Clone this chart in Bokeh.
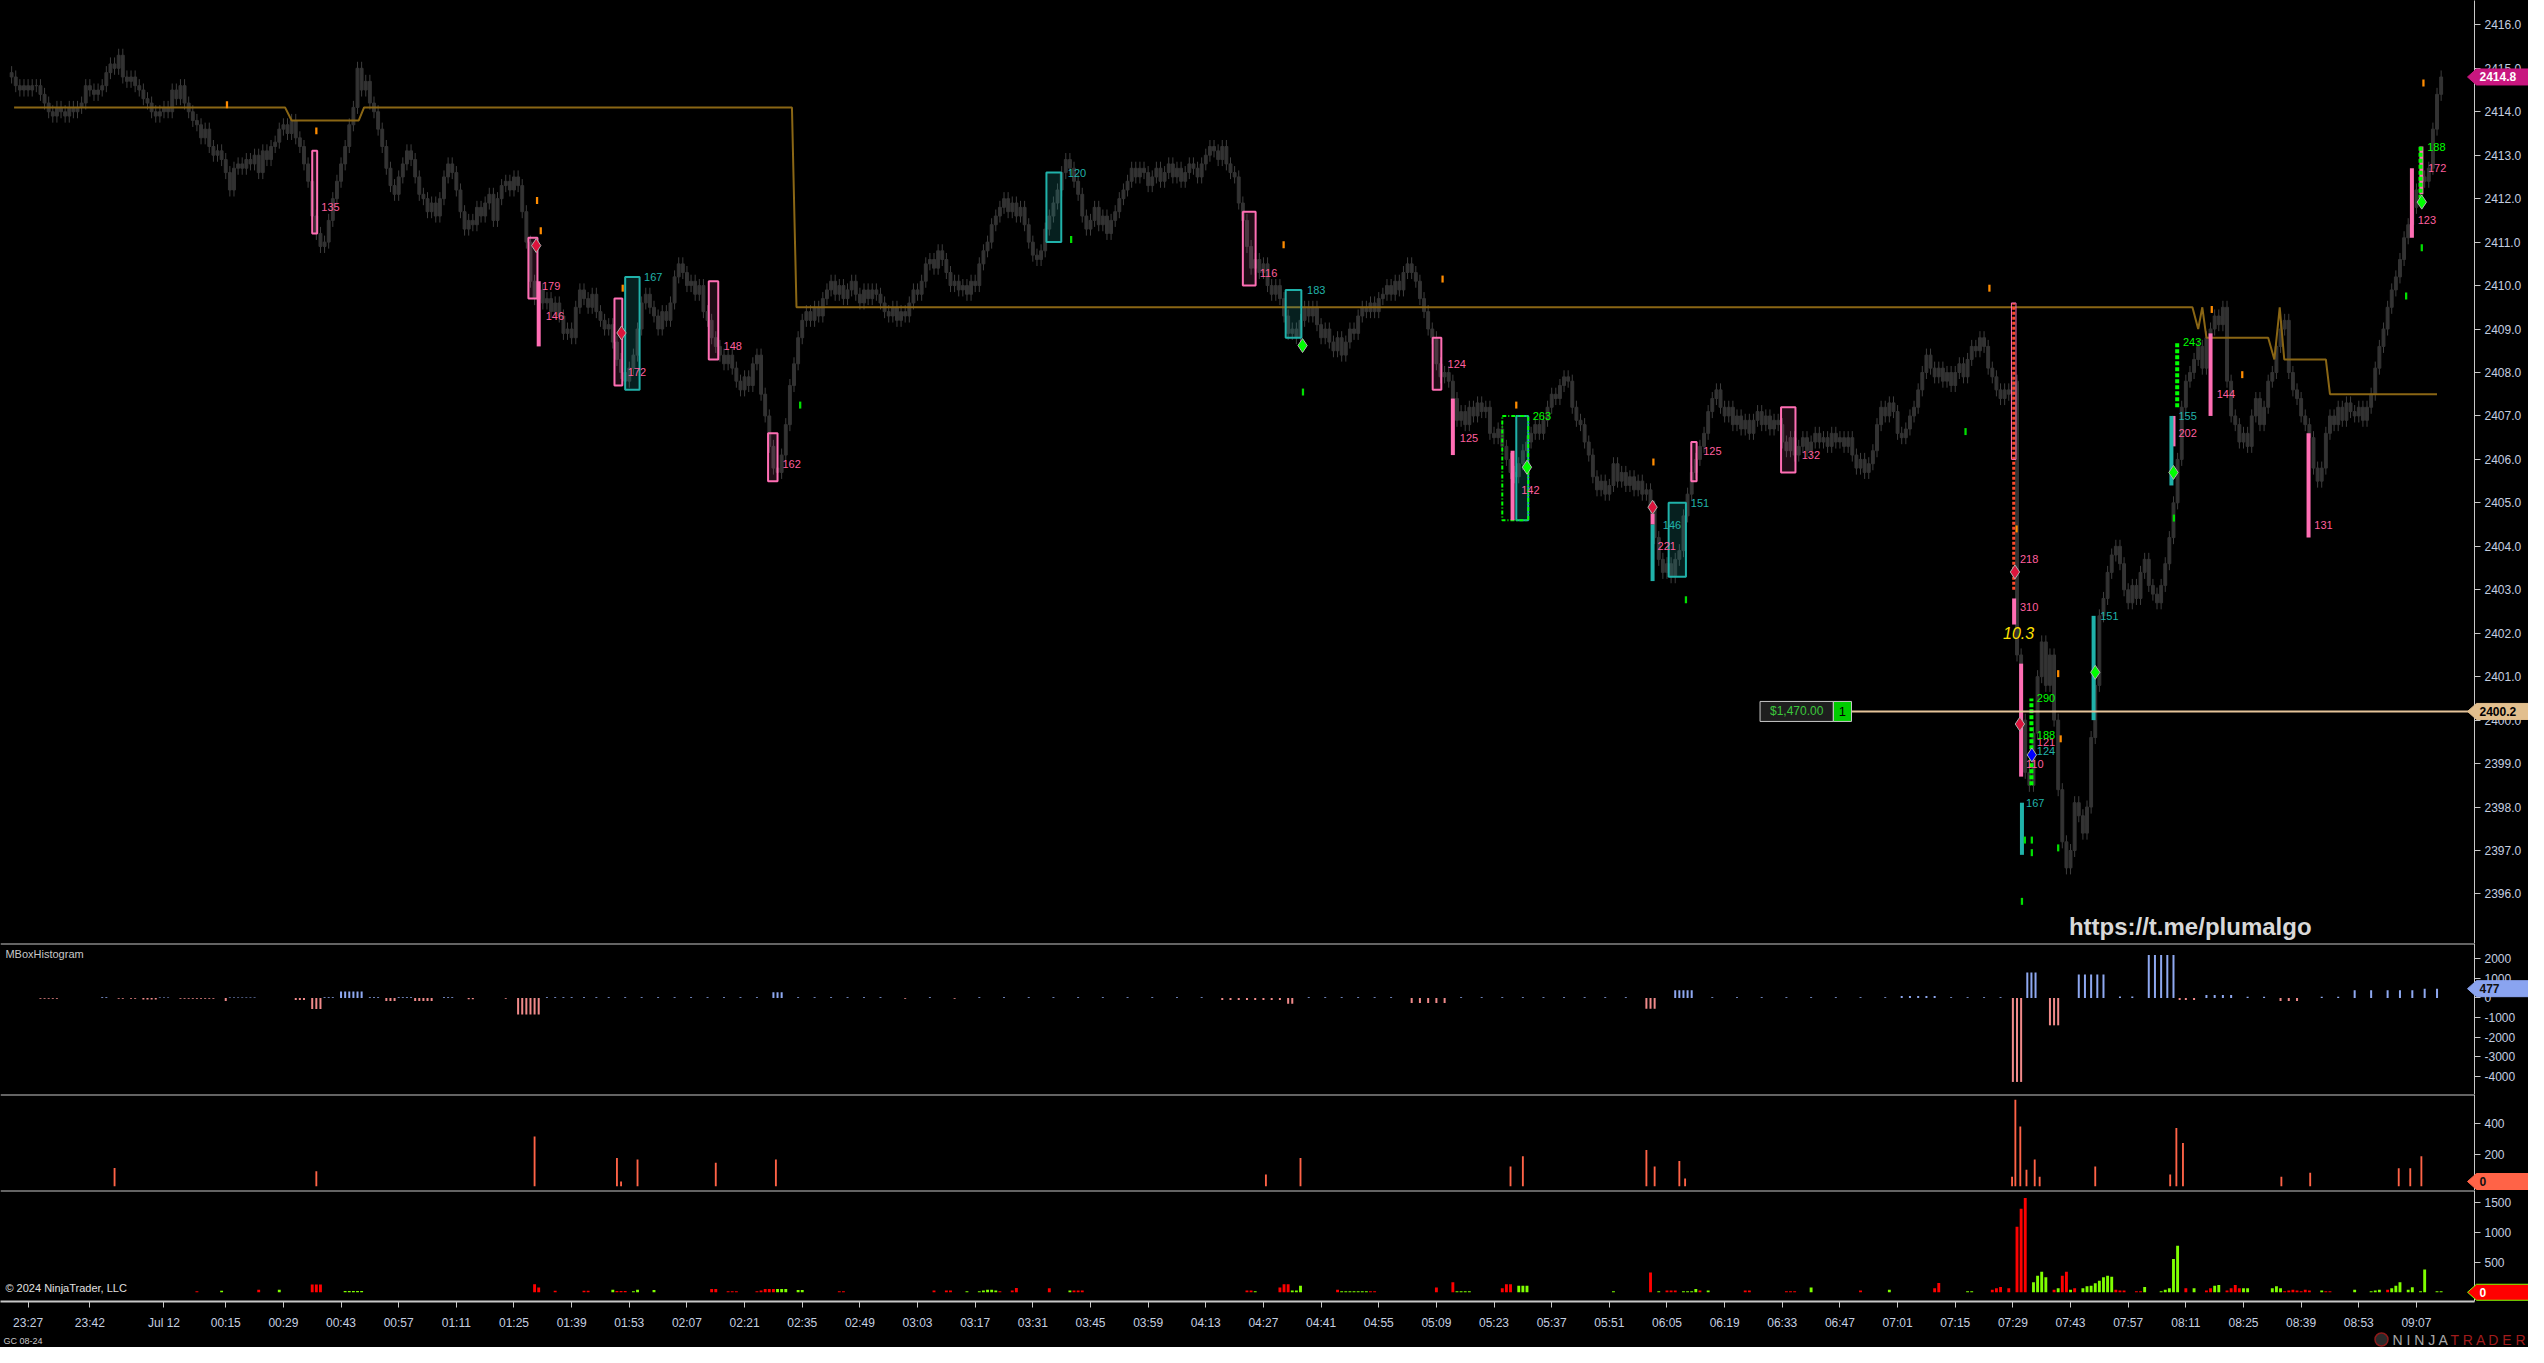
import numpy as np
from bokeh.plotting import figure
from bokeh.layouts import column, row
from bokeh.models import FixedTicker, Label, Span, Range1d, PrintfTickFormatter
from bokeh.core.properties import value
from bokeh.embed import file_html
from bokeh.resources import INLINE

# x = minutes after 23:00 (Jul 11); one candle per minute from 23:23
BAR_START = 23
# closes in tenths above 2390.0
CLOSE_TENTHS = [
    248,246,245,246,245,246,246,244,242,240, 239,241,240,239,241,240,241,242,246,245,
    244,245,246,249,251,250,253,248,247,248, 246,245,243,242,240,239,240,241,240,245,
    243,246,242,240,238,237,234,236,232,230, 231,229,226,222,227,228,227,229,228,230,
    226,231,229,232,233,236,237,235,238,234, 232,228,224,216,212,209,210,215,220,224,
    228,232,237,241,250,245,247,242,240,236, 232,227,223,221,225,228,231,229,225,221,
    220,217,219,216,220,225,228,226,222,217, 213,215,214,218,216,219,221,215,220,223,
    224,222,225,223,217,210,201,197,199,196, 197,194,196,193,189,190,188,195,199,197,
    195,198,194,192,190,191,187,183,180,178, 181,184,190,196,198,195,193,190,194,192,
    196,202,205,203,200,201,198,200,194,192, 188,186,184,182,184,181,178,176,179,177,
    182,184,175,170,163,158,157,161,168,177, 182,188,192,194,192,195,193,197,199,201,
    198,200,197,199,201,198,196,199,197,199, 198,196,194,193,195,192,194,193,196,199,
    198,201,205,206,204,208,206,203,200,201, 199,200,198,201,200,205,208,210,214,216,
    218,220,217,219,216,218,214,210,207,206, 208,213,216,219,222,226,229,227,224,221,
    216,213,215,218,214,216,212,215,217,220, 222,224,227,225,227,226,223,225,227,224,
    226,228,225,227,224,226,228,227,225,228, 230,232,231,229,232,228,226,225,219,215,
    209,204,206,203,205,200,198,200,197,193, 189,190,188,192,195,193,195,191,188,190,
    187,185,188,184,187,190,189,193,195,194, 196,194,197,198,200,198,201,199,203,205,
    203,201,197,194,190,188,182,179,180,178, 174,169,171,168,172,170,173,171,172,166,
    165,167,163,160,157,156,159,162,164,166, 168,166,169,172,175,174,177,179,178,172,
    169,168,164,161,156,153,155,152,154,159, 155,157,154,156,153,155,152,153,149,142,
    137,134,136,133,137,139,147,152,157,160, 163,166,171,174,176,172,170,172,168,170,
    167,169,166,169,171,168,170,167,169,168, 164,162,165,161,163,165,162,164,166,164,
    165,163,166,164,165,163,165,161,158,160, 157,159,162,168,172,170,173,171,166,165,
    167,170,172,176,180,184,181,179,181,178, 180,177,180,182,179,183,186,185,188,186,
    181,179,176,174,176,175,178,115,100,88, 85,97,110,118,108,115,100,84,72,66,
    70,81,78,74,80,96,108,124,128,134, 138,140,136,130,127,131,128,134,137,131,
    129,127,131,136,142,150,160,172,178,180, 183,186,181,188,190,193,191,195,178,170,
    168,164,166,163,170,174,168,172,178,180, 186,190,192,180,176,174,170,168,165,158,
    155,158,166,170,168,172,169,173,171,170, 172,169,172,175,181,186,190,195,199,202,
    206,211,214,218,222,225,224,227,236,244, 248,
]

LEVEL_T = [23.6, 89.4, 91.0, 107.3, 108.6, 212.5, 213.6, 552.6, 554.0, 555.0, 556.0, 571.0, 572.5, 573.8, 574.9, 585.0, 586.0, 612.0]
LEVEL_P = [2414.1, 2414.1, 2413.8, 2413.8, 2414.1, 2414.1, 2409.5, 2409.5, 2409.0, 2409.5, 2408.8, 2408.8, 2408.3, 2409.5, 2408.3, 2408.3, 2407.5, 2407.5]

# signal boxes: (t0, t1, low, high)
PINK_BOXES = [(96, 97.2, 2411.2, 2413.1), (148.5, 150.7, 2409.7, 2411.1), (169.4, 171.3, 2407.7, 2409.7),
              (192.3, 194.6, 2408.3, 2410.1), (206.7, 209.0, 2405.5, 2406.6), (322.0, 325.1, 2410.0, 2411.7),
              (368.1, 370.2, 2407.6, 2408.8), (430.9, 432.2, 2405.5, 2406.4), (452.7, 456.2, 2405.7, 2407.2)]
TEAL_BOXES = [(172.0, 175.5, 2407.6, 2410.2), (274.3, 277.9, 2411.0, 2412.6), (332.4, 336.2, 2408.8, 2409.9),
              (388.4, 391.3, 2404.6, 2407.0), (425.4, 429.6, 2403.3, 2405.0)]
GREEN_DASH_BOXES = [(385.0, 391.3, 2404.6, 2407.0)]
# solid signal bars: (t, low, high)
PINK_BARS = [(151, 2408.6, 2410.1), (373, 2406.1, 2407.4), (387.5, 2404.6, 2406.2), (509.3, 2402.2, 2402.8),
             (511, 2398.7, 2401.3), (548, 2406.3, 2407.0), (557, 2407.0, 2408.9), (580.8, 2404.2, 2406.6),
             (605.9, 2411.1, 2412.7), (608.2, 2412.1, 2413.2), (421.5, 2404.5, 2404.75)]
TEAL_BARS = [(421.5, 2403.2, 2404.5), (511.2, 2396.9, 2398.1), (528.6, 2400.0, 2402.4), (547.5, 2405.4, 2407.0)]
GREEN_DASH_BARS = [(513.5, 2398.5, 2400.5), (548.9, 2407.2, 2408.7), (608.0, 2412.0, 2413.2)]
ORANGE_DASH_BARS = [(509.2, 2403.0, 2409.6)]

RED_DIAMONDS = [(150.4, 2410.92), (171.1, 2408.91), (421.5, 2404.9), (509.5, 2403.41), (510.7, 2399.91)]
GREEN_DIAMONDS = [(336.5, 2408.62), (391.0, 2405.82), (529.0, 2401.1), (548.0, 2405.7), (608.3, 2411.92)]
BLUE_DIAMONDS = [(513.6, 2399.2)]

ORANGE_TICKS = [(75.3, 2414.16), (97.0, 2413.56), (150.6, 2411.96), (151.5, 2411.26), (171.4, 2409.94),
                (331.9, 2410.94), (370.5, 2410.15), (388.4, 2407.25), (421.7, 2405.94), (503.3, 2409.94),
                (509.9, 2404.4), (520.0, 2401.07), (520.6, 2399.57), (557.3, 2409.45), (564.7, 2407.95), (608.7, 2414.66)]
GREEN_TICKS = [(214.5, 2407.25), (280.3, 2411.06), (336.6, 2407.55), (429.6, 2402.77), (497.5, 2406.64),
               (511.9, 2397.24), (513.6, 2397.24), (513.6, 2396.95), (511.2, 2395.83), (520.0, 2397.06),
               (548.1, 2404.65), (604.5, 2409.76), (608.3, 2410.87)]

PINK_LABELS = [("135", 97.9, 2411.8), ("179", 151.5, 2410.0), ("146", 152.4, 2409.3), ("172", 172.3, 2408.0),
               ("148", 195.6, 2408.6), ("162", 209.9, 2405.9), ("116", 325.8, 2410.3), ("124", 371.4, 2408.2),
               ("125", 374.4, 2406.5), ("142", 389.3, 2405.3), ("221", 422.4, 2404.0), ("125", 433.5, 2406.2),
               ("132", 457.4, 2406.1), ("218", 510.4, 2403.7), ("310", 510.4, 2402.6), ("121", 514.5, 2399.5),
               ("110", 511.9, 2399.0), ("202", 548.9, 2406.6), ("144", 558.2, 2407.5), ("131", 581.9, 2404.5),
               ("123", 607.0, 2411.5), ("172", 609.5, 2412.7)]
TEAL_LABELS = [("167", 176.3, 2410.2), ("120", 279.2, 2412.6), ("183", 337.3, 2409.9), ("146", 423.7, 2404.5),
               ("151", 430.5, 2405.0), ("124", 514.5, 2399.3), ("167", 511.9, 2398.1), ("151", 529.9, 2402.4),
               ("155", 548.9, 2407.0)]
GREEN_LABELS = [("263", 392.1, 2407.0), ("290", 514.5, 2400.5), ("188", 514.5, 2399.65), ("243", 550.0, 2408.7),
                ("188", 609.3, 2413.2)]

POSITION_PRICE = 2400.2
LAST_PRICE = 2414.8
LAST_HIST = 477

# MBoxHistogram
HIST_T = [30,31,32,33,34, 45,46, 49,50,52,53, 55,56,57,58, 59,60,61, 64,65,66,67,68, 69,70,71,72, 75,
          76,77,78,79,80,81,82, 92,93,94, 96,97,98, 99,100,101, 103,104,105,106,107,108, 110,111,112,
          114,115,116, 117,118,119,120, 121,122,123,124,125, 128,129,130, 134,135, 143, 146,147,148,149,150,151,
          153,155,157,159,162,165,168,172,176,180,184,188,192,196,200,204,208,209,210,214,218,222,226,230,234,
          240,246,252,258,264,270,276,282,288,294,300,306,312,317,319,321,323,325,327,329,331,333,334,
          338,342,346,350,354,358,363,365,367,369,371,375,380,385,390,395,400,405,410,415,420,421,422,
          427,428,429,430,431, 436,442,448,454,460,466,472,478,482,484,486,488,490,494,498,502,506,
          509,510,511, 512.5,513.5,514.5, 518,519,520, 525,526.5,528,529.5,531, 535,538,
          542,543.5,545,546.5,548, 549.5,551,553, 556,558,560,562, 566,570, 574,576,578, 584,588,
          592,596,600,603,606,609,612]
HIST_V = [-40,-40,-40,-40,-40, 40,40, -40,-40,-40,-40, -80,-80,-80,-80, 30,30,30, -40,-40,-40,-40,-40, -40,-40,-40,-40, -150,
          30,30,30,30,30,30,30, -100,-100,-100, -560,-560,-560, 40,40,40, 330,330,330,330,330,330, 40,40,40,
          -150,-150,-150, 40,40,40,40, -150,-150,-150,-150,-150, 40,40,40, -60,-60, -40, -850,-850,-850,-850,-850,-850,
          40,40,40,40,40,40,40,40,40,40,40,40,40,40,40,40,300,300,300,40,40,40,40,40,40,
          -40,40,-40,40,40,40,40,40,40,40,40,40,40,-100,-100,-100,-100,-100,-100,-100,-100,-300,-300,
          40,40,40,40,40,40,-250,-250,-250,-250,-250,40,40,40,40,40,40,40,40,40,-550,-550,-550,
          400,400,400,400,400, 40,40,40,40,40,40,40,40,100,100,100,100,100,40,40,40,40,
          -4300,-4300,-4300, 1300,1300,1300, -1400,-1400,-1400, 1200,1200,1200,1200,1200, 80,80,
          2200,2200,2200,2200,2200, -100,-100,-100, 150,150,150,150, 60,60, -150,-150,-150, 60,60,
          400,400,400,400,400,477,477]

# Panel 3 (orange bars)
P3_T = [48, 97, 150, 170, 171, 175, 194, 208.6, 327.6, 336, 387, 390, 420, 422, 428, 429.4,
        508.8, 509.6, 510.8, 512.3, 514.3, 515.5, 529, 547.2, 548.7, 550.3, 574.2, 581.2, 602.7, 605.5, 608.2]
P3_V = [116, 95, 316, 180, 30, 170, 150, 170, 75, 180, 125, 190, 230, 125, 160, 50,
        60, 550, 380, 105, 170, 60, 125, 75, 370, 275, 60, 85, 115, 115, 190]
LAST_P3 = 0

# Panel 4 (red / green volume bars)
P4_RED_T = [68, 83, 96, 97, 98, 150, 151, 155, 162, 163, 170, 171, 172, 193, 194, 197, 198, 199, 204, 205, 206, 207, 208,
            224, 225, 247, 250, 251, 263, 266, 267, 275, 281, 282, 283, 323, 324, 331, 332, 333, 345, 353, 354, 369, 373,
            385, 386, 387, 421, 425, 426, 427, 433, 444, 445, 454, 455, 456, 472, 490, 491, 504, 505, 506, 508,
            510, 511, 512, 519, 521, 522, 524, 534, 535, 536, 539, 540, 551, 556, 557, 561, 562, 563, 564,
            575, 576, 577, 578, 579, 580, 581, 585, 586, 600]
P4_RED_V = [15, 43, 130, 130, 130, 135, 80, 25, 25, 25, 20, 20, 20, 56, 56, 17, 17, 17, 17, 28, 56, 56, 56,
            17, 17, 28, 28, 28, 17, 28, 72, 67, 28, 28, 28, 28, 28, 78, 133, 133, 44, 17, 17, 78, 167,
            67, 133, 133, 330, 28, 28, 28, 28, 28, 28, 17, 17, 17, 28, 67, 156, 44, 67, 89, 67,
            1100, 1400, 1580, 44, 278, 344, 67, 44, 28, 28, 17, 17, 67, 28, 67, 28, 67, 120, 67,
            17, 28, 44, 28, 17, 44, 28, 17, 17, 44]
P4_GRN_T = [74, 88, 104, 105, 106, 107, 108, 169, 174, 175, 179, 209, 210, 211, 214, 215, 255, 258, 259, 260, 261, 262,
            280, 325, 334, 335, 336, 346, 347, 348, 349, 350, 351, 352, 374, 375, 376, 377, 389, 390, 391, 412, 423,
            429, 430, 431, 432, 435, 460, 479, 498, 499, 514, 515, 516, 517, 520, 523, 526, 527, 528, 529, 530,
            531, 532, 533, 541, 545, 546, 547, 548, 549, 553, 558, 559, 565, 566, 572, 573, 574, 584, 592, 596, 597, 598,
            601, 602, 603, 605, 606, 608, 609, 612, 613]
P4_GRN_V = [27, 44, 20, 20, 20, 20, 20, 44, 17, 44, 40, 56, 56, 56, 40, 40, 17, 17, 28, 44, 44, 28,
            28, 17, 28, 28, 111, 17, 17, 17, 17, 17, 17, 17, 17, 17, 17, 17, 111, 111, 111, 17, 17,
            17, 17, 17, 56, 28, 78, 44, 17, 17, 167, 278, 344, 250, 67, 44, 67, 100, 110, 150, 195,
            250, 278, 260, 89, 17, 44, 67, 560, 780, 67, 111, 120, 67, 67, 67, 100, 67, 28, 44, 17, 28, 44,
            67, 110, 167, 44, 83, 17, 380, 17, 17]
LAST_P4 = 0

TIME_TICKS = [27, 42, 60, 75, 89, 103, 117, 131, 145, 159, 173, 187, 201, 215, 229, 243, 257, 271, 285, 299,
              313, 327, 341, 355, 369, 383, 397, 411, 425, 439, 453, 467, 481, 495, 509, 523, 537, 551, 565,
              579, 593, 607]
TIME_LABELS = ["23:27", "23:42", "Jul 12", "00:15", "00:29", "00:43", "00:57", "01:11", "01:25", "01:39",
               "01:53", "02:07", "02:21", "02:35", "02:49", "03:03", "03:17", "03:31", "03:45", "03:59",
               "04:13", "04:27", "04:41", "04:55", "05:09", "05:23", "05:37", "05:51", "06:05", "06:19",
               "06:33", "06:47", "07:01", "07:15", "07:29", "07:43", "07:57", "08:11", "08:25", "08:39",
               "08:53", "09:07"]
PRICE_TICKS = [2396.0 + i for i in range(21)]
HIST_TICKS = [2000, 1000, 0, -1000, -2000, -3000, -4000]
P3_TICKS = [0, 200, 400]
P4_TICKS = [0, 500, 1000, 1500]

# ---------------------------------------------------------------------------
FONT = "Liberation Sans"
AXIS_TXT = "#c4cfe0"
AXIS_LINE = "#c8c8c8"
FW = 2474
RB = 54          # right border (price axis area)
TW = 62          # width of the overlay holding the axis tags
TAG_HALF = 8     # half height of a tag, px
xr = Range1d(20.3, 621.1)


def make_fig(h, yr, ticks, fmt, bottom=False):
    p = figure(frame_width=FW, frame_height=h, x_range=xr, y_range=Range1d(*yr),
               x_axis_location="below" if bottom else None, y_axis_location="right",
               output_backend="svg", toolbar_location=None,
               min_border_left=0, min_border_right=RB, min_border_top=0,
               min_border_bottom=46 if bottom else 0,
               background_fill_color="black", border_fill_color="black")
    p.grid.visible = False
    p.outline_line_color = None
    ax = p.yaxis[0]
    ax.ticker = FixedTicker(ticks=ticks)
    ax.formatter = PrintfTickFormatter(format=fmt)
    ax.axis_line_color = AXIS_LINE
    ax.major_tick_line_color = AXIS_LINE
    ax.major_tick_out = 6
    ax.major_tick_in = 0
    ax.minor_tick_line_color = None
    ax.major_label_text_color = AXIS_TXT
    ax.major_label_text_font = FONT
    ax.major_label_text_font_size = "12px"
    ax.major_label_standoff = 4
    return p


def tag_fig(h, yr, tags, bottom=False):
    """transparent overlay laid over the price-axis area that draws the value tags"""
    t = figure(frame_width=TW, frame_height=h, x_range=Range1d(0, TW), y_range=Range1d(*yr),
               x_axis_location=None, y_axis_location=None, output_backend="svg", toolbar_location=None,
               min_border_left=0, min_border_right=0, min_border_top=0, min_border_bottom=46 if bottom else 0,
               background_fill_color=None, border_fill_color=None, margin=(0, 0, 0, -TW))
    t.background_fill_alpha = 0
    t.border_fill_alpha = 0
    t.grid.visible = False
    t.outline_line_color = None
    per_px = (yr[1] - yr[0]) / h
    dy = TAG_HALF * per_px
    for val, txt, bg, fg, border in tags:
        # keep the tag inside the panel when its value sits on the panel's bottom edge
        yc = max(val, yr[0] + (TAG_HALF + 1) * per_px)
        t.patch(x=[1, 10, TW, TW, 10], y=[yc, yc + dy, yc + dy, yc - dy, yc - dy],
                fill_color=bg, line_color=border, line_width=1)
        t.text(x=[13], y=[yc], text=[txt], text_color=fg, text_font=value(FONT), text_font_size="12px",
               text_font_style="bold", text_baseline="middle", text_align="left")
    return t


# ---------------- main price panel
MAIN_Y = (2394.86, 2416.56)
main = make_fig(943, MAIN_Y, PRICE_TICKS, "%.1f")

t = np.arange(BAR_START, BAR_START + len(CLOSE_TENTHS))
c = 2390 + np.array(CLOSE_TENTHS) / 10.0
o = np.concatenate([[c[0] + 0.1], c[:-1]])
top = np.maximum(o, c)
bot = np.minimum(o, c)
hi = top + 0.15
lo = bot - 0.15
main.segment(x0=t, y0=lo, x1=t, y1=hi, line_color="#3e3e3e", line_width=1)
main.vbar(x=t, width=0.7, top=top, bottom=bot, fill_color="#333333", line_color="#333333", line_width=1)

main.line(LEVEL_T, LEVEL_P, line_color="#8a6614", line_width=2)


def quads(p, boxes, color, fill, alpha, dash="solid", lw=2):
    b = list(zip(*boxes))
    p.quad(left=b[0], right=b[1], bottom=b[2], top=b[3], fill_color=fill, fill_alpha=alpha,
           line_color=color, line_width=lw, line_dash=dash)


quads(main, PINK_BOXES, "#ff6eb4", "#ff6eb4", 0.12)
quads(main, TEAL_BOXES, "#20b2aa", "#20b2aa", 0.18)
quads(main, GREEN_DASH_BOXES, "#00ff00", None, 0.0, dash="4 2 1 2")


def bars(p, items, color, lw=4, dash="solid"):
    b = list(zip(*items))
    p.segment(x0=b[0], y0=b[1], x1=b[0], y1=b[2], line_color=color, line_width=lw, line_dash=dash)


bars(main, PINK_BARS, "#ff6eb4")
bars(main, TEAL_BARS, "#20b2aa")
bars(main, GREEN_DASH_BARS, "#00ff00", lw=4, dash="4 2")
bars(main, ORANGE_DASH_BARS, "#ff4a2a", lw=3, dash="3 2")
ob = ORANGE_DASH_BARS[0]
main.quad(left=[ob[0] - 0.55], right=[ob[0] + 0.55], bottom=[ob[1] + 3.0], top=[ob[2]], fill_color=None,
          line_color="#ff6eb4", line_width=1)

for pts, col in ((ORANGE_TICKS, "#ff8c00"), (GREEN_TICKS, "#00e000")):
    b = list(zip(*pts))
    main.rect(x=b[0], y=b[1], width=0.55, height=0.16, fill_color=col, line_color=None)

for pts, col in ((RED_DIAMONDS, "#dc143c"), (GREEN_DIAMONDS, "#00ff00"), (BLUE_DIAMONDS, "#0000ff")):
    b = list(zip(*pts))
    main.scatter(x=b[0], y=b[1], marker="diamond", size=14, fill_color=col, line_color="#b0b0b0", line_width=1)

for labels, col in ((PINK_LABELS, "#ff5f9e"), (TEAL_LABELS, "#20b2aa"), (GREEN_LABELS, "#00ff00")):
    b = list(zip(*labels))
    main.text(x=[v + 0.3 for v in b[1]], y=b[2], text=b[0], text_color=col, text_font=value(FONT),
              text_font_size="11px", text_baseline="middle", text_align="left")

main.text(x=[506.6], y=[2402.0], text=["10.3"], text_color="#ffe000", text_font=value(FONT),
          text_font_size="16px", text_font_style="italic", text_baseline="middle", text_align="left")

# position line + box
main.segment(x0=[469.8], y0=[POSITION_PRICE], x1=[621.1], y1=[POSITION_PRICE], line_color="#e5c49a", line_width=2)
main.quad(left=[447.6], right=[465.4], bottom=[POSITION_PRICE - 0.23], top=[POSITION_PRICE + 0.23],
          fill_color="#1e1e1e", line_color="#c8c8c8", line_width=1)
main.quad(left=[465.4], right=[469.8], bottom=[POSITION_PRICE - 0.23], top=[POSITION_PRICE + 0.23],
          fill_color="#00cc00", line_color="#c8c8c8", line_width=1)
main.text(x=[456.5], y=[POSITION_PRICE], text=["$1,470.00"], text_color="#3cc83c", text_font=value(FONT),
          text_font_size="12px", text_baseline="middle", text_align="center")
main.text(x=[467.6], y=[POSITION_PRICE], text=["1"], text_color="black", text_font=value(FONT),
          text_font_size="13px", text_baseline="middle", text_align="center")

main.add_layout(Label(x=522.6, y=2395.25, text="https://t.me/plumalgo", text_font=FONT, text_font_size="24px",
                      text_font_style="bold", text_color="#d8d8d8", text_baseline="middle"))
main_tags = tag_fig(943, MAIN_Y, [(LAST_PRICE, "2414.8", "#c8177f", "white", "#c8177f"),
                                  (POSITION_PRICE, "2400.2", "#e2bf8e", "black", "#e2bf8e")])

# ---------------- histogram panel
HIST_Y = (-4944, 2792)
hist = make_fig(151, HIST_Y, HIST_TICKS, "%d")
hv = np.array(HIST_V)
hist.segment(x0=HIST_T, y0=0, x1=HIST_T, y1=hv, line_color=np.where(hv < 0, "#f08a8a", "#8ea8f0").tolist(),
             line_width=2)
hist.add_layout(Span(location=HIST_Y[1], dimension="width", line_color=AXIS_LINE, line_width=2))
hist.add_layout(Label(x=21.5, y=2250, text="MBoxHistogram", text_font=FONT, text_font_size="11px",
                      text_color="#c8c8c8", text_baseline="middle"))
hist_tags = tag_fig(151, HIST_Y, [(LAST_HIST, "477", "#8aa4f0", "#101010", "#8aa4f0")])

# ---------------- panel 3
P3_Y = (-27, 583)
p3 = make_fig(96, P3_Y, P3_TICKS, "%d")
p3.yaxis[0].major_label_overrides = {0: ""}   # the value tag covers the zero label
p3.vbar(x=P3_T, width=0.45, top=P3_V, bottom=0, fill_color="#ff6347", line_color=None)
p3.add_layout(Span(location=P3_Y[1], dimension="width", line_color=AXIS_LINE, line_width=2))
p3_tags = tag_fig(96, P3_Y, [(LAST_P3, "0", "#ff6347", "#101010", "#ff6347")])

# ---------------- panel 4
P4_Y = (-155, 1707)
p4 = make_fig(111, P4_Y, P4_TICKS, "%d", bottom=True)
p4.yaxis[0].major_label_overrides = {0: ""}
p4.vbar(x=P4_RED_T, width=0.7, top=P4_RED_V, bottom=0, fill_color="#ff0000", line_color=None)
p4.vbar(x=P4_GRN_T, width=0.7, top=P4_GRN_V, bottom=0, fill_color="#7fff00", line_color=None)
p4.add_layout(Span(location=P4_Y[1], dimension="width", line_color=AXIS_LINE, line_width=2))
p4.add_layout(Label(x=21.5, y=78, text="\u00a9 2024 NinjaTrader, LLC", text_font=FONT, text_font_size="11px",
                    text_color="#e0e0e0", text_baseline="middle"))
xa = p4.xaxis[0]
xa.ticker = FixedTicker(ticks=TIME_TICKS)
xa.major_label_overrides = {tk: lb for tk, lb in zip(TIME_TICKS, TIME_LABELS)}
xa.axis_line_color = AXIS_LINE
xa.axis_line_width = 2
xa.major_tick_line_color = AXIS_LINE
xa.major_tick_out = 6
xa.major_tick_in = 0
xa.minor_tick_line_color = None
xa.major_label_text_color = AXIS_TXT
xa.major_label_text_font = FONT
xa.major_label_text_font_size = "12px"
xa.major_label_standoff = 8
p4_tags = tag_fig(111, P4_Y, [(LAST_P4, "0", "#ff0000", "white", "#7fff00")], bottom=True)

# ---------------- footer overlay (instrument name and logo under the time axis)
FOOT_H = 20
foot = figure(frame_width=FW + RB, frame_height=FOOT_H, x_range=Range1d(0, FW + RB), y_range=Range1d(0, FOOT_H),
              x_axis_location=None, y_axis_location=None, output_backend="svg", toolbar_location=None,
              min_border_left=0, min_border_right=0, min_border_top=0, min_border_bottom=0,
              background_fill_color=None, border_fill_color=None, margin=(-FOOT_H, 0, 0, 0))
foot.background_fill_alpha = 0
foot.border_fill_alpha = 0
foot.grid.visible = False
foot.outline_line_color = None
foot.text(x=[3], y=[7], text=["GC 08-24"], text_color="#c8c8c8", text_font=value(FONT), text_font_size="9px",
          text_baseline="middle", text_align="left")
foot.scatter(x=[2381], y=[8], marker="circle", size=13, fill_color="#2a2a2a", line_color="#8b1a1a", line_width=1.5)
foot.text(x=[2392], y=[8], text=["N I N J A"], text_color="#a8a8a8", text_font=value(FONT), text_font_size="14px",
          text_baseline="middle", text_align="left")
foot.text(x=[2450], y=[8], text=["T R A D E R"], text_color="#a01c1c", text_font=value(FONT), text_font_size="14px",
          text_baseline="middle", text_align="left")

layout = column(row(main, main_tags, spacing=0), row(hist, hist_tags, spacing=0),
                row(p3, p3_tags, spacing=0), row(p4, p4_tags, spacing=0), foot,
                spacing=0, styles={"background-color": "black"})
open("out.html", "w").write(file_html(layout, INLINE))
